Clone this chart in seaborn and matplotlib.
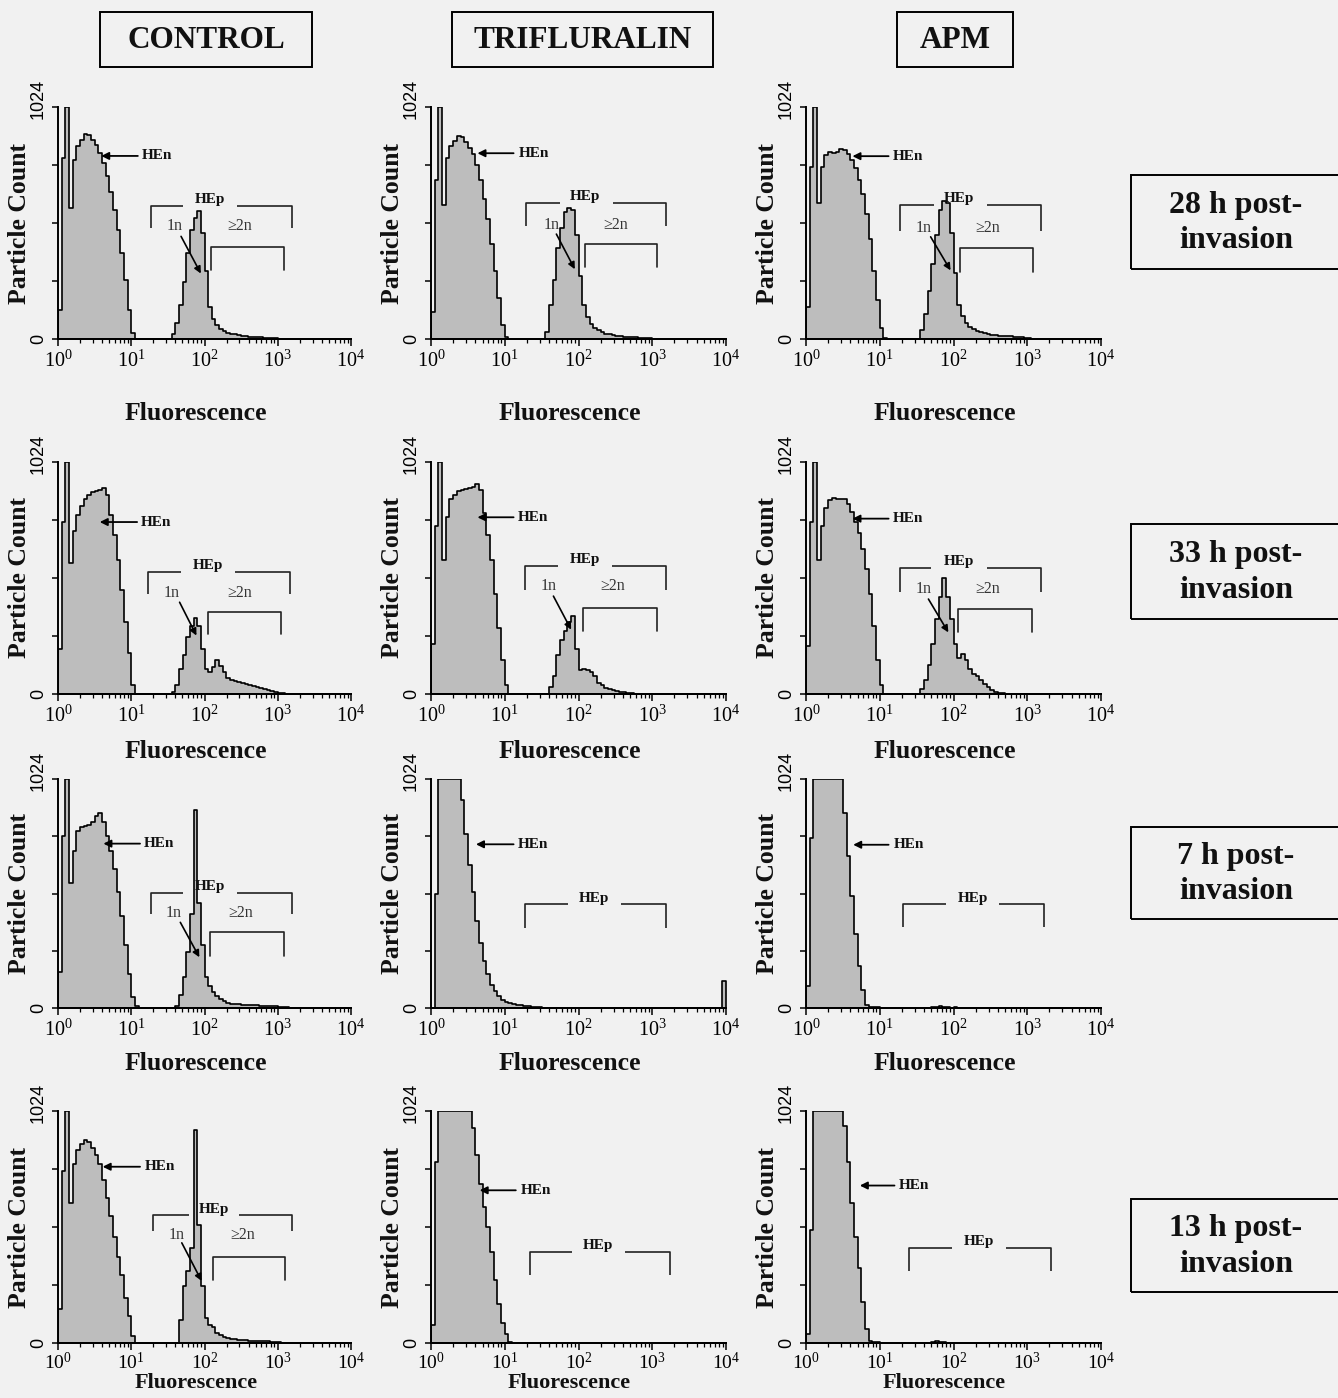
import numpy as np
import pandas as pd
import matplotlib
matplotlib.use("Agg")
import matplotlib.pyplot as plt
import matplotlib.transforms as mtransforms
import seaborn as sns
from matplotlib.patches import Rectangle
from matplotlib.ticker import LogLocator, NullFormatter

# ---------------- data ----------------
treatments = ["CONTROL", "TRIFLURALIN", "APM"]
timepoints = ["28 h post-\ninvasion", "33 h post-\ninvasion",
              "7 h post-\ninvasion", "13 h post-\ninvasion"]
x_tick_labels = [r"$\mathregular{10^{0}}$", r"$\mathregular{10^{1}}$", r"$\mathregular{10^{2}}$",
                 r"$\mathregular{10^{3}}$", r"$\mathregular{10^{4}}$"]
y_tick_labels = ["0", "", "", "", "1024"]

N_BINS = 80            # channels, 0.05 decade each, from 10^0 to 10^4
LOG_RANGE = (0.0, 4.0)

# particle counts per channel (channel 0 starts at 10^0)
control_28h = [130, 800, 1024, 580, 790, 850, 880, 905, 900, 880, 855, 820, 775, 720, 650, 570, 480, 380, 260, 130, 25,
               0, 0, 0, 0, 0, 0, 0, 0, 0, 0,
               20, 70, 150, 250, 380, 480, 535, 565, 470, 300, 140, 90, 60, 45, 35, 28, 22, 20, 17, 15, 12, 10, 9, 8, 7, 6, 6, 5, 5]
trifluralin_28h = [120, 700, 1024, 590, 800, 850, 875, 895, 890, 870, 845, 815, 770, 700, 620, 530, 420, 300, 180, 60, 10,
                   0, 0, 0, 0, 0, 0, 0, 0, 0, 0,
                   30, 150, 260, 400, 490, 560, 580, 570, 460, 280, 150, 95, 65, 48, 38, 30, 24, 20, 17, 14, 12, 10, 9, 8, 7, 6, 6, 5, 5]
apm_28h = [140, 760, 1024, 600, 760, 810, 825, 820, 825, 840, 835, 815, 790, 755, 700, 640, 550, 440, 300, 170, 50, 5,
           0, 0, 0, 0, 0, 0, 0, 0, 0,
           40, 110, 210, 330, 460, 570, 610, 600, 470, 290, 150, 100, 70, 55, 45, 36, 30, 25, 22, 19, 17, 15, 14, 13, 12, 11, 10, 8, 6, 4]

control_33h = [200, 760, 1024, 580, 720, 790, 830, 860, 880, 890, 895, 900, 910, 880, 790, 700, 590, 460, 320, 180, 40,
               0, 0, 0, 0, 0, 0, 0, 0, 0, 0,
               10, 40, 110, 170, 250, 300, 335, 300, 200, 110, 95, 120, 150, 125, 95, 70, 62, 57, 52, 48, 44, 40, 36, 32, 27, 23, 18, 14, 10, 6, 3]
trifluralin_33h = [220, 740, 1024, 590, 780, 860, 880, 895, 900, 905, 910, 915, 925, 900, 800, 700, 590, 440, 290, 150, 40,
                   0, 0, 0, 0, 0, 0, 0, 0, 0, 0,
                   0, 30, 80, 170, 240, 280, 320, 345, 200, 105, 110, 105, 95, 80, 50, 38, 28, 22, 16, 12, 9, 7, 5, 3]
apm_33h = [210, 760, 1024, 590, 740, 820, 855, 865, 860, 860, 860, 840, 805, 760, 710, 640, 550, 440, 300, 150, 40,
           0, 0, 0, 0, 0, 0, 0, 0, 0, 0,
           20, 60, 130, 220, 330, 430, 510, 430, 330, 220, 160, 175, 150, 110, 90, 78, 62, 45, 30, 18, 10, 6, 4, 2]

control_7h = [160, 770, 1024, 560, 700, 790, 810, 815, 820, 830, 860, 870, 830, 770, 700, 620, 520, 410, 280, 150, 50, 10,
              0, 0, 0, 0, 0, 0, 0, 0, 0, 0,
              10, 60, 140, 250, 420, 885, 470, 280, 140, 100, 70, 55, 40, 30, 24, 20, 18, 16, 15, 14, 13, 12, 12, 11, 10, 9, 8, 7, 6, 5, 3]
trifluralin_7h = ([0, 512, 1024, 1024, 1024, 1024, 1024, 1024, 930, 780, 640, 520, 390, 290, 210, 150, 105, 75, 52, 38,
                   28, 22, 18, 15, 12, 10, 8, 6, 5, 4] + [0] * 49 + [120])
apm_7h = [100, 760, 1024, 1024, 1024, 1024, 1024, 1024, 1024, 1024, 870, 680, 500, 330, 190, 80, 15, 5, 4, 3, 2,
          0, 0, 0, 0, 0, 0, 0, 0, 0, 0, 0, 0, 0,
          4, 6, 8, 6, 3, 0, 3]

control_13h = [150, 760, 1024, 620, 790, 850, 880, 895, 885, 860, 830, 790, 720, 640, 560, 470, 380, 300, 200, 120, 30,
               0, 0, 0, 0, 0, 0, 0, 0, 0, 0, 0, 0,
               100, 250, 320, 420, 940, 520, 250, 110, 80, 70, 45, 35, 25, 20, 18, 16, 14, 13, 12, 11, 10, 10, 9, 8, 7, 6, 5, 3]
trifluralin_13h = [80, 800, 1024, 1024, 1024, 1024, 1024, 1024, 1024, 1024, 1024, 950, 830, 700, 600, 510, 400, 280, 170, 90, 40, 5]
apm_13h = [40, 500, 1024, 1024, 1024, 1024, 1024, 1024, 1024, 1024, 960, 800, 620, 470, 330, 180, 60, 8, 5, 3,
           0, 0, 0, 0, 0, 0, 0, 0, 0, 0, 0, 0, 0, 0,
           5, 8, 6, 3]

panel_data = [[control_28h, trifluralin_28h, apm_28h],
              [control_33h, trifluralin_33h, apm_33h],
              [control_7h, trifluralin_7h, apm_7h],
              [control_13h, trifluralin_13h, apm_13h]]

# ---------------- layout / annotation positions ----------------
W, H = 1338, 1398
col_px = [(58, 351), (431, 726), (806, 1101)]
row_px = [(107, 339), (462, 694), (779, 1008), (1111, 1343)]
xlabel_off = [63, 46, 44, 30]
xlabel_size = [18.5, 18.5, 18.5, 16]
xtick_pad = [3, 3, 3, 1.5]
xtick_size = [14.5, 14.5, 14.5, 14]

# HEn arrow: tip (log x, y), tail log x, text log x
hen = [[(0.59, 808, 1.09, 1.15), (0.63, 820, 1.12, 1.19), (0.63, 807, 1.12, 1.17)],
       [(0.57, 759, 1.08, 1.13), (0.63, 780, 1.12, 1.17), (0.63, 774, 1.12, 1.17)],
       [(0.62, 735, 1.12, 1.17), (0.61, 732, 1.12, 1.17), (0.64, 730, 1.12, 1.19)],
       [(0.61, 778, 1.12, 1.18), (0.66, 674, 1.15, 1.22), (0.73, 695, 1.20, 1.26)]]
# HEp bracket: x0, gap0, gap1, x1, y, ybottom, label x
hep = [[(1.27, 1.70, 2.45, 3.20, 589, 490, 2.08), (1.29, 1.75, 2.47, 3.19, 602, 497, 2.09), (1.28, 1.73, 2.45, 3.18, 592, 478, 2.07)],
       [(1.23, 1.68, 2.41, 3.17, 538, 442, 2.05), (1.27, 1.72, 2.45, 3.19, 565, 459, 2.09), (1.27, 1.70, 2.45, 3.19, 558, 451, 2.08)],
       [(1.27, 1.71, 2.44, 3.20, 516, 420, 2.08), (1.27, 1.86, 2.57, 3.19, 463, 359, 2.21), (1.31, 1.90, 2.62, 3.23, 463, 363, 2.26)],
       [(1.30, 1.79, 2.47, 3.20, 563, 493, 2.13), (1.34, 1.91, 2.63, 3.24, 402, 299, 2.27), (1.40, 1.98, 2.71, 3.32, 421, 318, 2.35)]]
# 1n / >=2n: 1n text (x,y), arrow from, arrow to, >=2n text x, >=2n bracket x0,x1,y,ybottom
ploidy = {(0, 0): ((1.59, 497), (1.68, 453), (1.95, 289), 2.48, (2.09, 3.09, 408, 304)),
          (0, 1): ((1.64, 502), (1.70, 463), (1.95, 308), 2.51, (2.09, 3.07, 419, 316)),
          (0, 2): ((1.60, 488), (1.69, 451), (1.96, 303), 2.47, (2.09, 3.08, 400, 296)),
          (1, 0): ((1.55, 446), (1.66, 405), (1.89, 258), 2.48, (2.05, 3.05, 361, 265)),
          (1, 1): ((1.59, 477), (1.66, 432), (1.90, 284), 2.47, (2.06, 3.07, 380, 277)),
          (1, 2): ((1.59, 463), (1.66, 419), (1.93, 272), 2.46, (2.06, 3.07, 375, 272)),
          (2, 0): ((1.58, 427), (1.67, 383), (1.93, 227), 2.49, (2.07, 3.08, 338, 234)),
          (3, 0): ((1.62, 478), (1.69, 442), (1.96, 274), 2.52, (2.11, 3.10, 380, 276))}

header_boxes = [(100, 312), (452, 713), (897, 1013)]
row_boxes = [(175, 269), (524, 619), (827, 919), (1199, 1292)]

BG = "#f1f1f1"
FILL = "#bdbdbd"
SERIF = ["Liberation Serif", "DejaVu Serif"]
SANS = ["Liberation Sans", "DejaVu Sans"]

sns.set_theme(style="ticks")
plt.rcParams["font.family"] = SERIF
plt.rcParams["mathtext.fontset"] = "custom"
plt.rcParams["mathtext.rm"] = "Liberation Sans"
plt.rcParams["mathtext.it"] = "Liberation Sans:italic"
plt.rcParams["mathtext.bf"] = "Liberation Sans:bold"

fig = plt.figure(figsize=(W / 100, H / 100), dpi=100, facecolor=BG)

log_centers = LOG_RANGE[0] + (np.arange(N_BINS) + 0.5) * (LOG_RANGE[1] - LOG_RANGE[0]) / N_BINS
lift_1024 = mtransforms.ScaledTranslation(0, 8 / 100, fig.dpi_scale_trans)


def X(v):
    return 10 ** v


for r in range(4):
    for c in range(3):
        x0p, x1p = col_px[c]
        y0p, y1p = row_px[r]
        ax = fig.add_axes([x0p / W, 1 - y1p / H, (x1p - x0p) / W, (y1p - y0p) / H])
        ax.set_facecolor("none")
        vals = panel_data[r][c]
        counts = np.array(list(vals) + [0] * (N_BINS - len(vals)), dtype=float)
        df = pd.DataFrame({"fluorescence": 10 ** log_centers, "count": counts})
        sns.histplot(data=df, x="fluorescence", weights="count", bins=N_BINS, binrange=LOG_RANGE,
                     log_scale=True, element="step", fill=True, facecolor=FILL, edgecolor="black",
                     alpha=1, linewidth=1.2, ax=ax)
        ax.set_xlim(1, 1e4)
        ax.set_ylim(0, 1024)
        ax.set_xticks([1, 10, 100, 1000, 10000])
        ax.set_xticklabels(x_tick_labels, fontsize=xtick_size[r])
        ax.xaxis.set_minor_locator(LogLocator(base=10, subs=np.arange(2, 10)))
        ax.xaxis.set_minor_formatter(NullFormatter())
        ax.set_yticks([0, 256, 512, 768, 1024])
        ax.set_yticklabels(y_tick_labels, rotation=90, va="center", fontsize=13, family=SANS)
        ax.tick_params(axis="x", which="major", direction="out", length=5, width=1.1, pad=xtick_pad[r], colors="black")
        ax.tick_params(axis="x", which="minor", direction="out", length=3, width=0.9, colors="black")
        ax.tick_params(axis="y", direction="out", length=4, width=1.1, pad=4, colors="black")
        top_lbl = ax.get_yticklabels()[-1]
        top_lbl.set_transform(top_lbl.get_transform() + lift_1024)
        for s in ("top", "right"):
            ax.spines[s].set_visible(False)
        for s in ("left", "bottom"):
            ax.spines[s].set_linewidth(1.4)
            ax.spines[s].set_color("black")
        ax.set_xlabel("Fluorescence", fontsize=xlabel_size[r], fontweight="bold", family=SERIF, color="#111111")
        ax.xaxis.set_label_coords(0.47, -xlabel_off[r] / (y1p - y0p))
        ax.set_ylabel("Particle Count", fontsize=18.5, fontweight="bold", family=SERIF, color="#111111")
        ax.yaxis.set_label_coords(-0.092, 0.5)

        # HEn arrow
        tx, ty, tail, txt = hen[r][c]
        ax.annotate("", xy=(X(tx), ty), xytext=(X(tail), ty),
                    arrowprops=dict(arrowstyle="-|>", color="black", lw=1.3, mutation_scale=11,
                                    shrinkA=0, shrinkB=0))
        ax.text(X(txt), ty, "HEn", ha="left", va="center", fontsize=11, fontweight="bold",
                family=SERIF, color="#111111")

        # HEp bracket
        bx0, g0, g1, bx1, by, bb, lx = hep[r][c]
        ax.plot([X(bx0), X(bx0), X(g0)], [bb, by, by], color="#222222", lw=1.2, solid_capstyle="butt")
        ax.plot([X(g1), X(bx1), X(bx1)], [by, by, bb], color="#222222", lw=1.2, solid_capstyle="butt")
        ax.text(X(lx), by + 12, "HEp", ha="center", va="baseline", fontsize=11, fontweight="bold",
                family=SERIF, color="#111111")

        if (r, c) in ploidy:
            (nx, ny), a0, a1, px2, (qx0, qx1, qy, qb) = ploidy[(r, c)]
            ax.text(X(nx), ny, "1n", ha="center", va="center", fontsize=11.5, family=SERIF, color="#333333")
            ax.annotate("", xy=(X(a1[0]), a1[1]), xytext=(X(a0[0]), a0[1]),
                        arrowprops=dict(arrowstyle="-|>", color="black", lw=1.2, mutation_scale=10,
                                        shrinkA=0, shrinkB=0))
            ax.text(X(px2), ny, "≥2n", ha="center", va="center", fontsize=11.5, family=SERIF, color="#333333")
            ax.plot([X(qx0), X(qx0), X(qx1), X(qx1)], [qb, qy, qy, qb], color="#222222", lw=1.2)

# column headers
for name, (bx0, bx1) in zip(treatments, header_boxes):
    fig.add_artist(Rectangle((bx0 / W, 1 - 67 / H), (bx1 - bx0) / W, 55 / H, transform=fig.transFigure,
                             fill=False, edgecolor="black", lw=1.4))
    fig.text((bx0 + bx1) / 2 / W, 1 - 40 / H, name, ha="center", va="center", fontsize=22.5,
             fontweight="bold", family=SERIF, color="#111111")

# row labels
for label, (by0, by1) in zip(timepoints, row_boxes):
    fig.add_artist(Rectangle((1131 / W, 1 - by1 / H), 220 / W, (by1 - by0) / H, transform=fig.transFigure,
                             fill=False, edgecolor="black", lw=1.4, clip_on=False))
    fig.text(1236 / W, 1 - ((by0 + by1) / 2 + 1) / H, label, ha="center", va="center", fontsize=23,
             fontweight="bold", family=SERIF, color="#111111", linespacing=1.3)

fig.savefig("out.png", dpi=100, facecolor=BG)
